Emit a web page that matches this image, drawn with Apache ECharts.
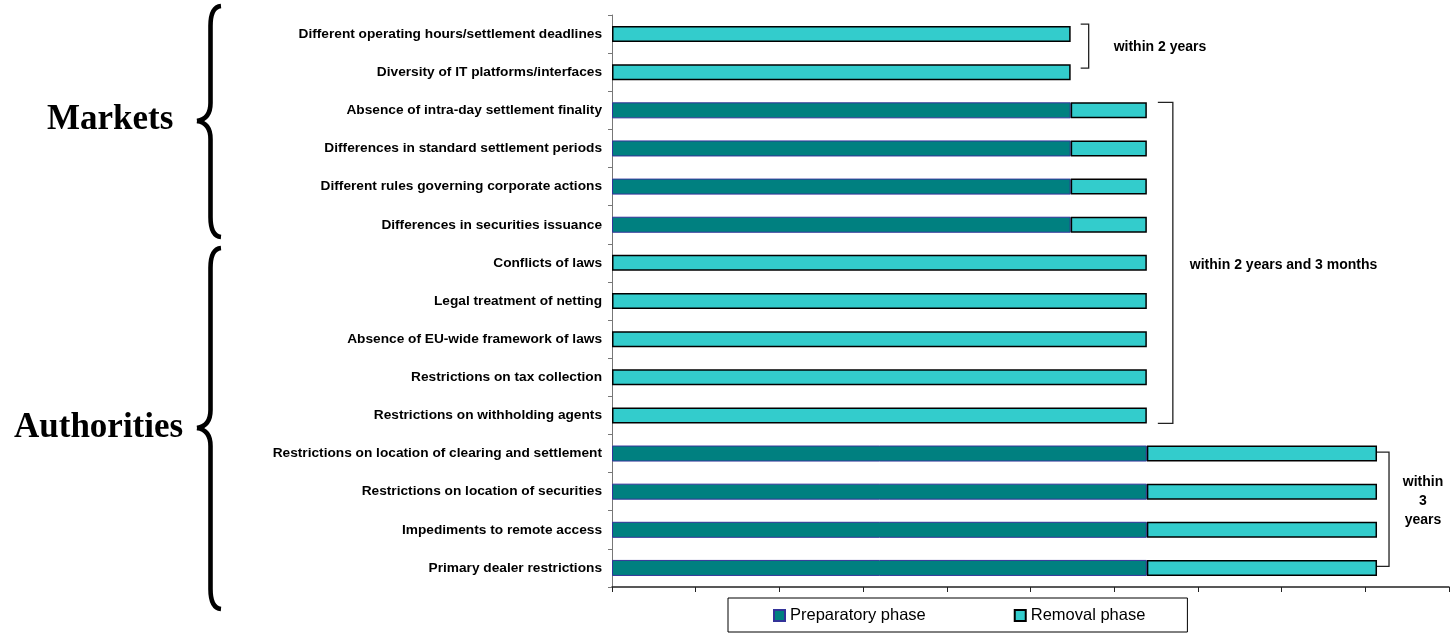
<!DOCTYPE html>
<html>
<head>
<meta charset="utf-8">
<script src="https://cdn.jsdelivr.net/npm/echarts@6/dist/echarts.min.js"></script>
<style>
html,body{margin:0;padding:0;background:#fff;}
#chart{width:1450px;height:634px;}
</style>
</head>
<body>
<div id="chart"></div>
<script>
var categories = [
  'Different operating hours/settlement deadlines',
  'Diversity of IT platforms/interfaces',
  'Absence of intra-day settlement finality',
  'Differences in standard settlement periods',
  'Different rules governing corporate actions',
  'Differences in securities issuance',
  'Conflicts of laws',
  'Legal treatment of netting',
  'Absence of EU-wide framework of laws',
  'Restrictions on tax collection',
  'Restrictions on withholding agents',
  'Restrictions on location of clearing and settlement',
  'Restrictions on location of securities',
  'Impediments to remote access',
  'Primary dealer restrictions'
];
var preparatory = [null, null, 5.48, 5.48, 5.48, 5.48, null, null, null, null, null, 6.39, 6.39, 6.39, 6.39];
var removal = [5.48, 5.48, 0.91, 0.91, 0.91, 0.91, 6.39, 6.39, 6.39, 6.39, 6.39, 2.75, 2.75, 2.75, 2.75];
var seriesNames = ['Preparatory phase', 'Removal phase'];
var groupLabels = ['Markets', 'Authorities'];
var annotations = ['within 2 years', 'within 2 years and 3 months', 'within\n3\nyears'];

var SANS = "'Liberation Sans', Arial, sans-serif";
var SERIF = "'Liberation Serif', 'Times New Roman', serif";

var chart = echarts.init(document.getElementById('chart'));
var option = {
  animation: false,
  backgroundColor: '#fff',
  grid: {left: 612, right: 1, top: 15, bottom: 47, containLabel: false},
  xAxis: {
    type: 'value', min: 0, max: 10, interval: 1,
    axisLine: {show: true, lineStyle: {color: '#222', width: 1.5}},
    axisTick: {show: true, length: 5, lineStyle: {color: '#222', width: 1}},
    axisLabel: {show: false},
    splitLine: {show: false}
  },
  yAxis: {
    type: 'category', data: categories, inverse: true,
    axisLine: {show: true, lineStyle: {color: '#777', width: 1}},
    axisTick: {show: true, length: 4, alignWithLabel: false, lineStyle: {color: '#777'}},
    axisLabel: {margin: 10, color: '#000', fontFamily: SANS, fontWeight: 'bold', fontSize: 13.7}
  },
  legend: {
    data: seriesNames,
    left: 728, top: 598,
    orient: 'horizontal',
    borderColor: '#000', borderWidth: 1,
    padding: [9, 42, 8, 45],
    itemGap: 88,
    itemWidth: 11, itemHeight: 11,
    icon: 'rect',
    textStyle: {color: '#000', fontFamily: SANS, fontSize: 16.5}
  },
  series: [
    {
      name: seriesNames[0], type: 'bar', stack: 'total', data: preparatory,
      barWidth: 16,
      itemStyle: {color: '#008080', borderColor: '#333399', borderWidth: 1}
    },
    {
      name: seriesNames[1], type: 'bar', stack: 'total', data: removal,
      barWidth: 16,
      itemStyle: {color: '#33CCCC', borderColor: '#000', borderWidth: 1.5}
    }
  ]
};
chart.setOption(option);

function px(v, cat) { return chart.convertToPixel({gridIndex: 0}, [v, cat]); }
function total(i) { return (preparatory[i] || 0) + removal[i]; }

var end2 = px(total(0), 0);
var c1 = px(0, 1);
var end23top = px(total(2), 2);
var end23bot = px(total(10), 10);
var end3top = px(total(11), 11);
var end3bot = px(total(14), 14);
var mid6 = px(0, 6);

function bracket(x0, x1, yt, yb) {
  return {
    type: 'polyline', silent: true,
    shape: {points: [[x0, yt], [x1, yt], [x1, yb], [x0, yb]]},
    style: {stroke: '#222', lineWidth: 1.3, fill: null}
  };
}
var braceStyle = {stroke: '#000', lineWidth: 4.6, fill: null};
function quad(x1, y1, cx, cy, x2, y2) {
  return {type: 'bezierCurve', silent: true,
    shape: {x1: x1, y1: y1, cpx1: cx, cpy1: cy, x2: x2, y2: y2}, style: braceStyle};
}
function vline(x, y1, y2) {
  return {type: 'line', silent: true, shape: {x1: x, y1: y1, x2: x, y2: y2}, style: braceStyle};
}
function brace(xTip, yTop, yTip, yBot) {
  var xs = xTip + 13.5, xe = xTip + 24;
  return [
    quad(xe, yTop, xs, yTop + 1, xs, yTop + 20),
    vline(xs, yTop + 20, yTip - 18),
    quad(xs, yTip - 18, xs, yTip - 2, xTip, yTip),
    quad(xTip, yTip, xs, yTip + 2, xs, yTip + 18),
    vline(xs, yTip + 18, yBot - 20),
    quad(xs, yBot - 20, xs, yBot - 1, xe, yBot)
  ];
}

var elements = [].concat(
  brace(197, 6, 121, 237),
  brace(197, 248, 428, 609),
  [
    {type: 'text', silent: true, left: 47, top: 102,
      style: {text: groupLabels[0], font: 'bold 35px ' + SERIF, fill: '#000'}},
    {type: 'text', silent: true, left: 14, top: 410,
      style: {text: groupLabels[1], font: 'bold 35px ' + SERIF, fill: '#000'}},
    bracket(end2[0] + 10, end2[0] + 18, end2[1] - 10, c1[1] - 4),
    bracket(end23top[0] + 11, end23top[0] + 26, end23top[1] - 8, end23bot[1] + 8),
    bracket(end3top[0], end3top[0] + 12, end3top[1] - 1.5, end3bot[1] - 1.5),
    {type: 'text', silent: true, x: end2[0] + 43, y: (end2[1] + c1[1]) / 2 - 6,
      style: {text: annotations[0], font: 'bold 14px ' + SANS, fill: '#000', textVerticalAlign: 'middle'}},
    {type: 'text', silent: true, x: end23top[0] + 43, y: mid6[1] + 2,
      style: {text: annotations[1], font: 'bold 14px ' + SANS, fill: '#000', textVerticalAlign: 'middle'}},
    {type: 'text', silent: true, x: end3top[0] + 46, y: (end3top[1] + end3bot[1]) / 2 - 10,
      style: {text: annotations[2], font: 'bold 14px ' + SANS, fill: '#000', textAlign: 'center', textVerticalAlign: 'middle', lineHeight: 19}}
  ]
);

chart.setOption({graphic: elements});
</script>
</body>
</html>
